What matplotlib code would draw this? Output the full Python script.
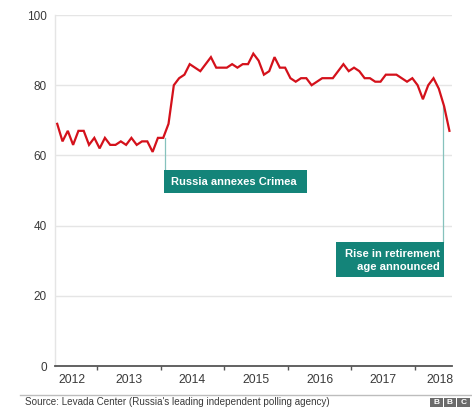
import numpy as np
import pandas as pd
import matplotlib
matplotlib.use('Agg')
import matplotlib.pyplot as plt
from matplotlib.patches import Rectangle

plt.rcParams['font.family'] = ['Liberation Sans', 'DejaVu Sans']

# Putin approval rating, monthly, May 2012 - July 2018
approval = [69, 64, 67, 63, 67, 67, 63, 65, 62, 65, 63, 63,
            64, 63, 65, 63, 64, 64, 61, 65, 65, 69, 80, 82,
            83, 86, 85, 84, 86, 88, 85, 85, 85, 86, 85, 86,
            86, 89, 87, 83, 84, 88, 85, 85, 82, 81, 82, 82,
            80, 81, 82, 82, 82, 84, 86, 84, 85, 84, 82, 82,
            81, 81, 83, 83, 83, 82, 81, 82, 80, 76, 80, 82,
            79, 74, 67]
months = pd.date_range('2012-05-01', periods=len(approval), freq='MS')
x_years = months.year + (months.month - 0.5) / 12

year_ticks = [2013, 2014, 2015, 2016, 2017, 2018]
year_label_pos = [2012.6, 2013.5, 2014.5, 2015.5, 2016.5, 2017.5, 2018.4]
year_labels = ['2012', '2013', '2014', '2015', '2016', '2017', '2018']
y_ticks = [0, 20, 40, 60, 80, 100]

crimea_text = 'Russia annexes Crimea'
crimea_x, crimea_y = 2014.07, 65
retire_text = 'Rise in retirement\nage announced'
retire_x, retire_y = 2018.445, 74

red = '#d4111b'
teal = '#148479'
teal_line = '#86c2bd'
grey_text = '#3a3a3a'

fig = plt.figure(figsize=(4.72, 4.09), dpi=100)
ax = fig.add_axes([0.1165, 0.1051, 0.8411, 0.8582])

ax.set_xlim(2012.34, 2018.582)
ax.set_ylim(0, 100)

for v in y_ticks[1:]:
    ax.axhline(v, color='#e5e5e5', linewidth=1.0, zorder=0)

ax.plot(x_years, approval, color=red, linewidth=1.6, zorder=3,
        solid_joinstyle='miter')

# annotations
ax.plot([crimea_x, crimea_x], [crimea_y, 55.8], color=teal_line, linewidth=0.9, zorder=2)
ax.add_patch(Rectangle((crimea_x - 0.016, 49.2), 2.244, 6.6, facecolor=teal,
                       edgecolor='none', zorder=4))
ax.text(2014.163, 52.4, crimea_text, color='white', fontsize=8, fontweight='bold',
        ha='left', va='center', zorder=5)

ax.plot([retire_x, retire_x], [retire_y, 35.3], color=teal_line, linewidth=0.9, zorder=2)
ax.add_patch(Rectangle((2016.758, 25.3), retire_x - 2016.758 + 0.005, 10.0, facecolor=teal,
                       edgecolor='none', zorder=4))
ax.text(2018.39, 30.1, retire_text, color='white', fontsize=8.1, fontweight='bold',
        ha='right', va='center', multialignment='right', linespacing=1.4, zorder=5)

for s in ['top', 'right']:
    ax.spines[s].set_visible(False)
ax.spines['left'].set_color('#e5e5e5')
ax.spines['left'].set_linewidth(1.0)
ax.spines['bottom'].set_color('#555555')
ax.spines['bottom'].set_linewidth(1.3)

ax.set_yticks(y_ticks)
ax.set_yticklabels([str(v) for v in y_ticks])
ax.tick_params(axis='y', length=0, pad=6, labelsize=8.5, labelcolor=grey_text)

ax.set_xticks(year_ticks)
ax.set_xticklabels([])
ax.set_xticks(year_label_pos, minor=True)
ax.set_xticklabels(year_labels, minor=True)
ax.tick_params(axis='x', which='major', length=3, width=1, color='#555555', direction='out')
ax.tick_params(axis='x', which='minor', length=0, pad=6, labelsize=8.7, labelcolor=grey_text)

# footer
fig.add_artist(plt.Line2D([20 / 472, 1.0], [1 - 395 / 409, 1 - 395 / 409],
                          color='#bdbdbd', linewidth=1.0))
fig.text(25 / 472, 1 - 402 / 409, "Source: Levada Center (Russia's leading independent polling agency)",
         fontsize=7.15, color=grey_text, ha='left', va='center')

for k, letter in enumerate('BBC'):
    x0 = (430 + k * 13.5) / 472
    fig.add_artist(Rectangle((x0, 1 - 406.5 / 409), 12.5 / 472, 9 / 409,
                             facecolor='#6b6b6b', edgecolor='none',
                             transform=fig.transFigure))
    fig.text(x0 + 6.25 / 472, 1 - 402 / 409, letter, fontsize=6, fontweight='bold',
             color='white', ha='center', va='center')

fig.savefig('out.png', dpi=100, facecolor='white')
